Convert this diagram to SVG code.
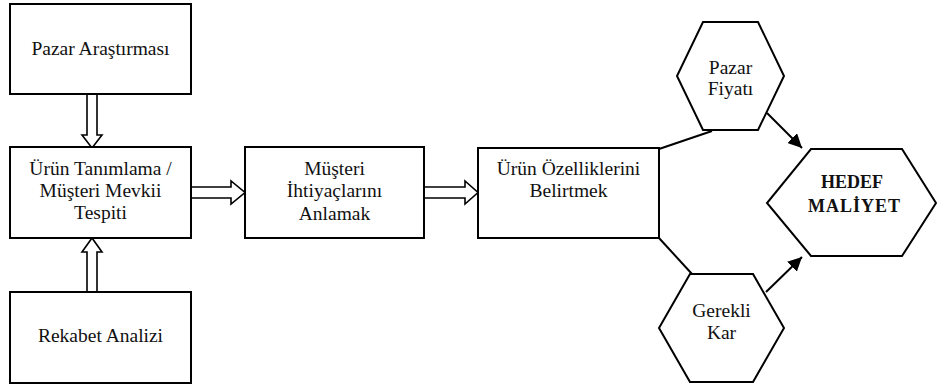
<svg xmlns="http://www.w3.org/2000/svg" width="938" height="387" viewBox="0 0 938 387">
<defs>
<marker id="ah" viewBox="0 0 10 10" refX="10" refY="5" markerWidth="7" markerHeight="7" markerUnits="strokeWidth" orient="auto">
<path d="M0,0 L10,5 L0,10 z" fill="#000"/>
</marker>
<style>
.box{fill:#fff;stroke:#000;stroke-width:2}
.hex{fill:#fff;stroke:#000;stroke-width:2;stroke-linejoin:miter}
.ho{fill:#fff;stroke:#000;stroke-width:1.6;stroke-linejoin:miter}
.ln{stroke:#000;stroke-width:2;fill:none}
text{font-family:'Liberation Serif','Times New Roman',serif;font-size:19.5px;fill:#111;text-anchor:middle}
text.b{font-weight:bold;font-size:18px}
</style>
</defs>
<rect width="938" height="387" fill="#fff"/>
<g id="connectors">
<polygon class="ho" points="87,94 97,94 97,135 102,135 92,148 82,135 87,135"/>
<polygon class="ho" points="87,292 97,292 97,252 102,252 92,238 82,252 87,252"/>
<polygon class="ho" points="191,187 231,187 231,181 245,192.5 231,204 231,198 191,198"/>
<polygon class="ho" points="424,187 465,187 465,181 478,192.5 465,204 465,198 424,198"/>
<line class="ln" x1="659" y1="149" x2="712" y2="131"/>
<line class="ln" x1="659" y1="238" x2="692" y2="274"/>
<line class="ln" x1="767" y1="113" x2="802" y2="148" marker-end="url(#ah)"/>
<line class="ln" x1="766" y1="292" x2="802" y2="257" marker-end="url(#ah)"/>
</g>
<g id="pazar-arastirmasi">
<rect class="box" x="10" y="4" width="181" height="90"/>
<text x="100.5" y="55">Pazar Araştırması</text>
</g>
<g id="urun-tanimlama">
<rect class="box" x="10" y="147" width="181" height="91"/>
<text x="100.5" y="175">Ürün Tanımlama /</text>
<text x="100.5" y="197">Müşteri Mevkii</text>
<text x="100.5" y="219">Tespiti</text>
</g>
<g id="rekabet-analizi">
<rect class="box" x="10" y="292" width="181" height="91"/>
<text x="100.5" y="342">Rekabet Analizi</text>
</g>
<g id="musteri-ihtiyaclari">
<rect class="box" x="245" y="147" width="179" height="91"/>
<text x="334.5" y="175">Müşteri</text>
<text x="334.5" y="197">İhtiyaçlarını</text>
<text x="334.5" y="220">Anlamak</text>
</g>
<g id="urun-ozellikleri">
<rect class="box" x="478" y="148" width="181" height="90"/>
<text x="568.5" y="175">Ürün Özelliklerini</text>
<text x="568.5" y="197">Belirtmek</text>
</g>
<g id="pazar-fiyati">
<polygon class="hex" points="703,22 758,22 784,76 758,130 703,130 677,76"/>
<text x="730.5" y="74">Pazar</text>
<text x="730.5" y="95">Fiyatı</text>
</g>
<g id="gerekli-kar">
<polygon class="hex" points="690,274 753,274 784,328 753,382 690,382 659,328"/>
<text x="721.5" y="317">Gerekli</text>
<text x="721.5" y="339">Kar</text>
</g>
<g id="hedef-maliyet">
<polygon class="hex" points="811,149 902,149 936,203 902,256 811,256 767,203"/>
<text class="b" x="852" y="188">HEDEF</text>
<text class="b" x="854" y="212" textLength="92" lengthAdjust="spacing">MALİYET</text>
</g>
</svg>
